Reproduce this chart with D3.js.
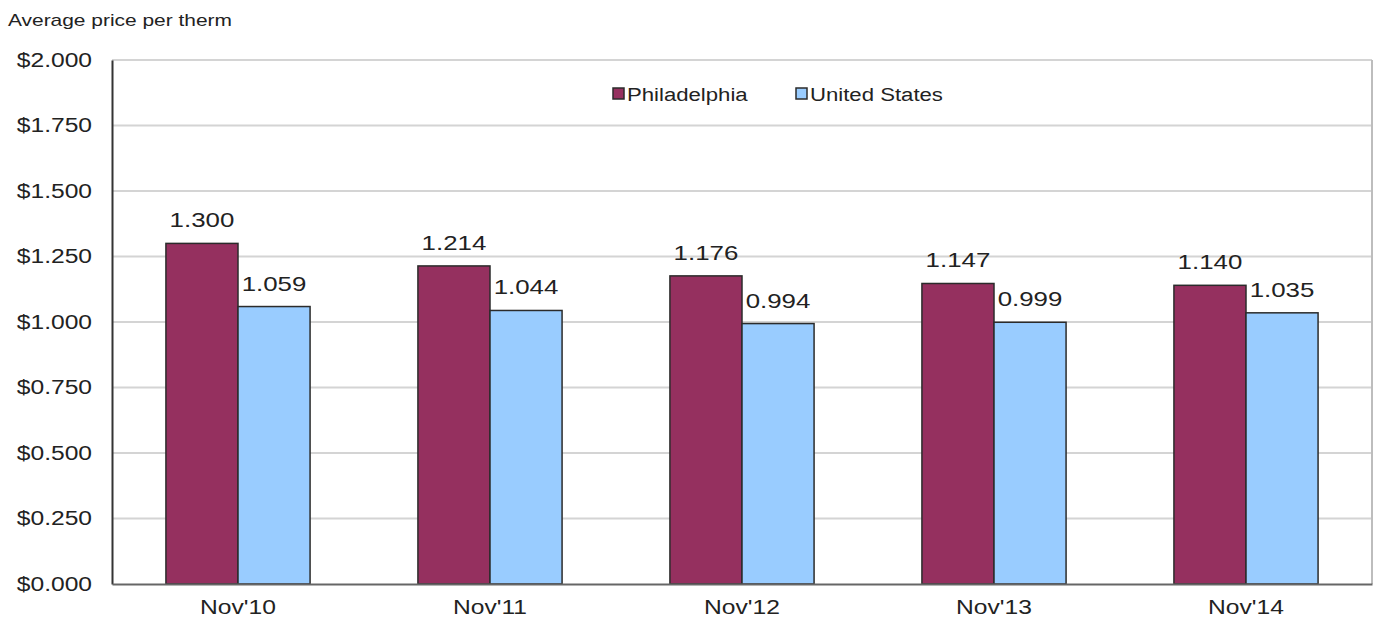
<!DOCTYPE html>
<html>
<head>
<meta charset="utf-8">
<script src="https://cdn.jsdelivr.net/npm/d3@7"></script>
<style>
  body { margin: 0; background: #fff; }
  svg text { font-family: "Liberation Sans", Arial, sans-serif; fill: #222; }
</style>
</head>
<body>
<div class="canvas"></div>
<script>
// data
const months = ["Nov'10", "Nov'11", "Nov'12", "Nov'13", "Nov'14"];
const seriesNames = ["Philadelphia", "United States"];
const philadelphia = [1.300, 1.214, 1.176, 1.147, 1.140];
const unitedStates = [1.059, 1.044, 0.994, 0.999, 1.035];
const yTicks = [0, 0.25, 0.5, 0.75, 1.0, 1.25, 1.5, 1.75, 2.0];
const colors = ["#95305f", "#99ccff"];

const width = 1378, height = 624;
const margin = {top: 60, right: 6, bottom: 40, left: 112};
const graphWidth = width - margin.left - margin.right;
const graphHeight = height - margin.top - margin.bottom;

const svg = d3.select('.canvas').append('svg')
    .attr('width', width)
    .attr('height', height);

svg.append('text')
    .attr('x', 8).attr('y', 26)
    .attr('font-size', 17)
    .text('Average price per therm');

const graph = svg.append('g')
    .attr('transform', `translate(${margin.left},${margin.top})`);

const rows = months.map((m, i) => ({month: m, values: [philadelphia[i], unitedStates[i]]}));

const x0 = d3.scaleBand().domain(months).range([0, graphWidth]);
const groupW = x0.bandwidth() * 0.572;
const x1 = d3.scaleBand().domain(seriesNames)
    .range([(x0.bandwidth() - groupW) / 2, (x0.bandwidth() + groupW) / 2]);
const y = d3.scaleLinear().domain([0, 2]).range([graphHeight, 0]);

// gridlines
graph.selectAll('.grid').data(yTicks.filter(d => d > 0)).enter()
    .append('line')
    .attr('x1', 0).attr('x2', graphWidth)
    .attr('y1', d => y(d)).attr('y2', d => y(d))
    .attr('stroke', '#d4d4d4').attr('stroke-width', 2);

// right border
graph.append('line')
    .attr('x1', graphWidth).attr('x2', graphWidth)
    .attr('y1', 0).attr('y2', graphHeight)
    .attr('stroke', '#bdbdbd').attr('stroke-width', 2);

// bars
const groups = graph.selectAll('.grp').data(rows).enter()
    .append('g')
    .attr('transform', d => `translate(${x0(d.month)},0)`);

groups.selectAll('rect')
    .data(d => d.values.map((v, i) => ({name: seriesNames[i], value: v, i})))
    .enter().append('rect')
    .attr('x', d => x1(d.name))
    .attr('y', d => y(d.value))
    .attr('width', x1.bandwidth())
    .attr('height', d => graphHeight - y(d.value))
    .attr('fill', d => colors[d.i])
    .attr('stroke', '#2b2b2b')
    .attr('stroke-width', 1.5);

groups.selectAll('.lbl')
    .data(d => d.values.map((v, i) => ({name: seriesNames[i], value: v})))
    .enter().append('text')
    .attr('x', d => x1(d.name) + x1.bandwidth() / 2)
    .attr('y', d => y(d.value) - 16)
    .attr('text-anchor', 'middle')
    .attr('font-size', 21)
    .text(d => d3.format('.3f')(d.value));

// y axis
const yAxis = d3.axisLeft(y).tickValues(yTicks).tickSize(0).tickPadding(20)
    .tickFormat(d => '$' + d3.format('.3f')(d));
const yAxisGroup = graph.append('g').call(yAxis);
yAxisGroup.select('.domain').attr('stroke', '#333').attr('stroke-width', 2);
yAxisGroup.selectAll('text').attr('font-size', 20).attr('fill', '#222');

// x axis
const xAxis = d3.axisBottom(x0).tickSize(0).tickPadding(16);
const xAxisGroup = graph.append('g')
    .attr('transform', `translate(0,${graphHeight})`)
    .call(xAxis);
xAxisGroup.select('.domain').attr('stroke', '#666').attr('stroke-width', 2);
xAxisGroup.selectAll('text').attr('font-size', 20).attr('fill', '#222');

// legend
const legend = svg.append('g').attr('transform', 'translate(613,94)');
const legendX = [0, 183];
seriesNames.forEach((name, i) => {
    legend.append('rect')
        .attr('x', legendX[i]).attr('y', -6)
        .attr('width', 11).attr('height', 11)
        .attr('fill', colors[i])
        .attr('stroke', '#2b2b2b').attr('stroke-width', 1.5);
    legend.append('text')
        .attr('x', legendX[i] + 14).attr('y', 7)
        .attr('font-size', 18)
        .text(name);
});

// the original lettering is a bit wider than Arial, stretch it
svg.selectAll('text').each(function() {
    const len = this.getComputedTextLength();
    d3.select(this)
        .attr('textLength', len * 1.23)
        .attr('lengthAdjust', 'spacingAndGlyphs');
});
</script>
</body>
</html>
